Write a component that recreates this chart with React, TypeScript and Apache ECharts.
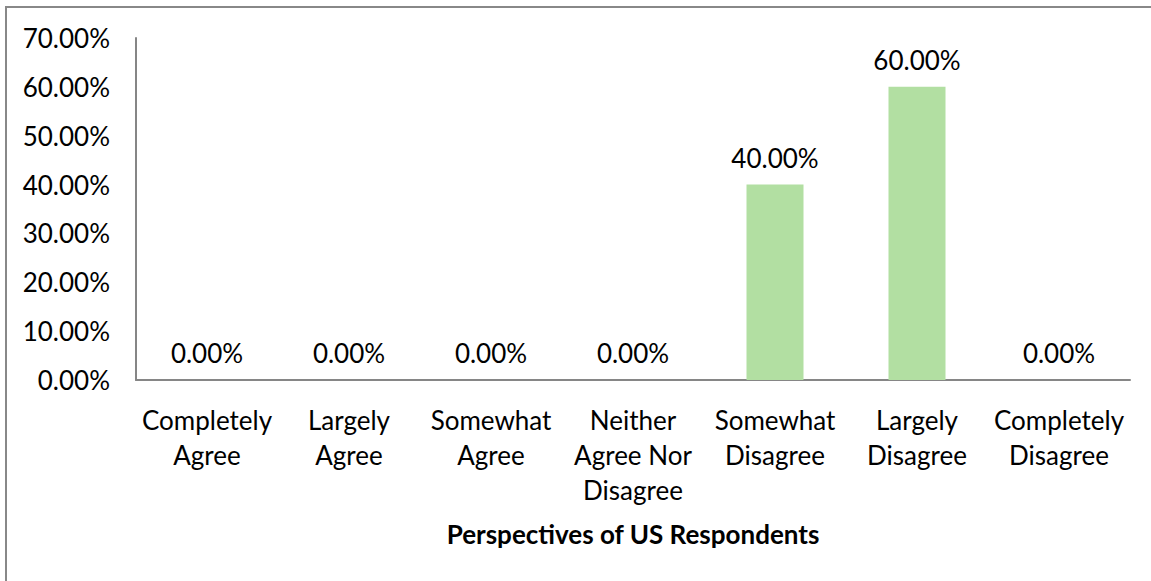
import React, { useEffect, useRef } from "react";
import * as echarts from "echarts";

const categories = [
  "Completely\nAgree",
  "Largely\nAgree",
  "Somewhat\nAgree",
  "Neither\nAgree Nor\nDisagree",
  "Somewhat\nDisagree",
  "Largely\nDisagree",
  "Completely\nDisagree",
];
const values = [0, 0, 0, 0, 40, 60, 0];
const yTicks = { min: 0, max: 70, interval: 10 };
const xAxisTitle = "Perspectives of US Respondents";

const FONT = "Lato, 'Open Sans', sans-serif";

export default function App() {
  const ref = useRef<HTMLDivElement>(null);
  useEffect(() => {
    if (!ref.current) return;
    const chart = echarts.init(ref.current, null, { renderer: "svg" });
    chart.setOption({
      animation: false,
      backgroundColor: "#ffffff",
      textStyle: { fontFamily: FONT },
      grid: { left: 136, right: 21, top: 38, bottom: 201, containLabel: false },
      graphic: [
        {
          type: "rect",
          shape: { x: 6, y: 7, width: 1300, height: 800 },
          style: { fill: "none", stroke: "#888888", lineWidth: 2 },
          silent: true,
        },
      ],
      xAxis: {
        type: "category",
        data: categories,
        name: xAxisTitle,
        nameLocation: "middle",
        nameGap: 141,
        nameTextStyle: { fontFamily: FONT, fontSize: 26, fontWeight: "bold", color: "#000" },
        axisLine: { lineStyle: { color: "#868686", width: 2 } },
        axisTick: { show: false },
        axisLabel: {
          interval: 0,
          fontFamily: FONT,
          fontSize: 26,
          color: "#000",
          lineHeight: 35,
          margin: 22,
        },
      },
      yAxis: {
        type: "value",
        min: yTicks.min,
        max: yTicks.max,
        interval: yTicks.interval,
        splitLine: { show: false },
        axisLine: { show: true, lineStyle: { color: "#868686", width: 2 } },
        axisTick: { show: false },
        axisLabel: {
          fontFamily: FONT,
          fontSize: 26,
          color: "#000",
          margin: 26,
          formatter: (v: number) => v.toFixed(2) + "%",
        },
      },
      series: [
        {
          type: "bar",
          data: values,
          barWidth: 57,
          itemStyle: { color: "#b2dfa2" },
          label: {
            show: true,
            position: "top",
            distance: 14,
            fontFamily: FONT,
            fontSize: 26,
            color: "#000",
            formatter: (p: any) => p.value.toFixed(2) + "%",
          },
        },
      ],
    });
    return () => chart.dispose();
  }, []);
  return (
    <div
      ref={ref}
      style={{ position: "fixed", left: 0, top: 0, width: 1151, height: 581 }}
    />
  );
}
